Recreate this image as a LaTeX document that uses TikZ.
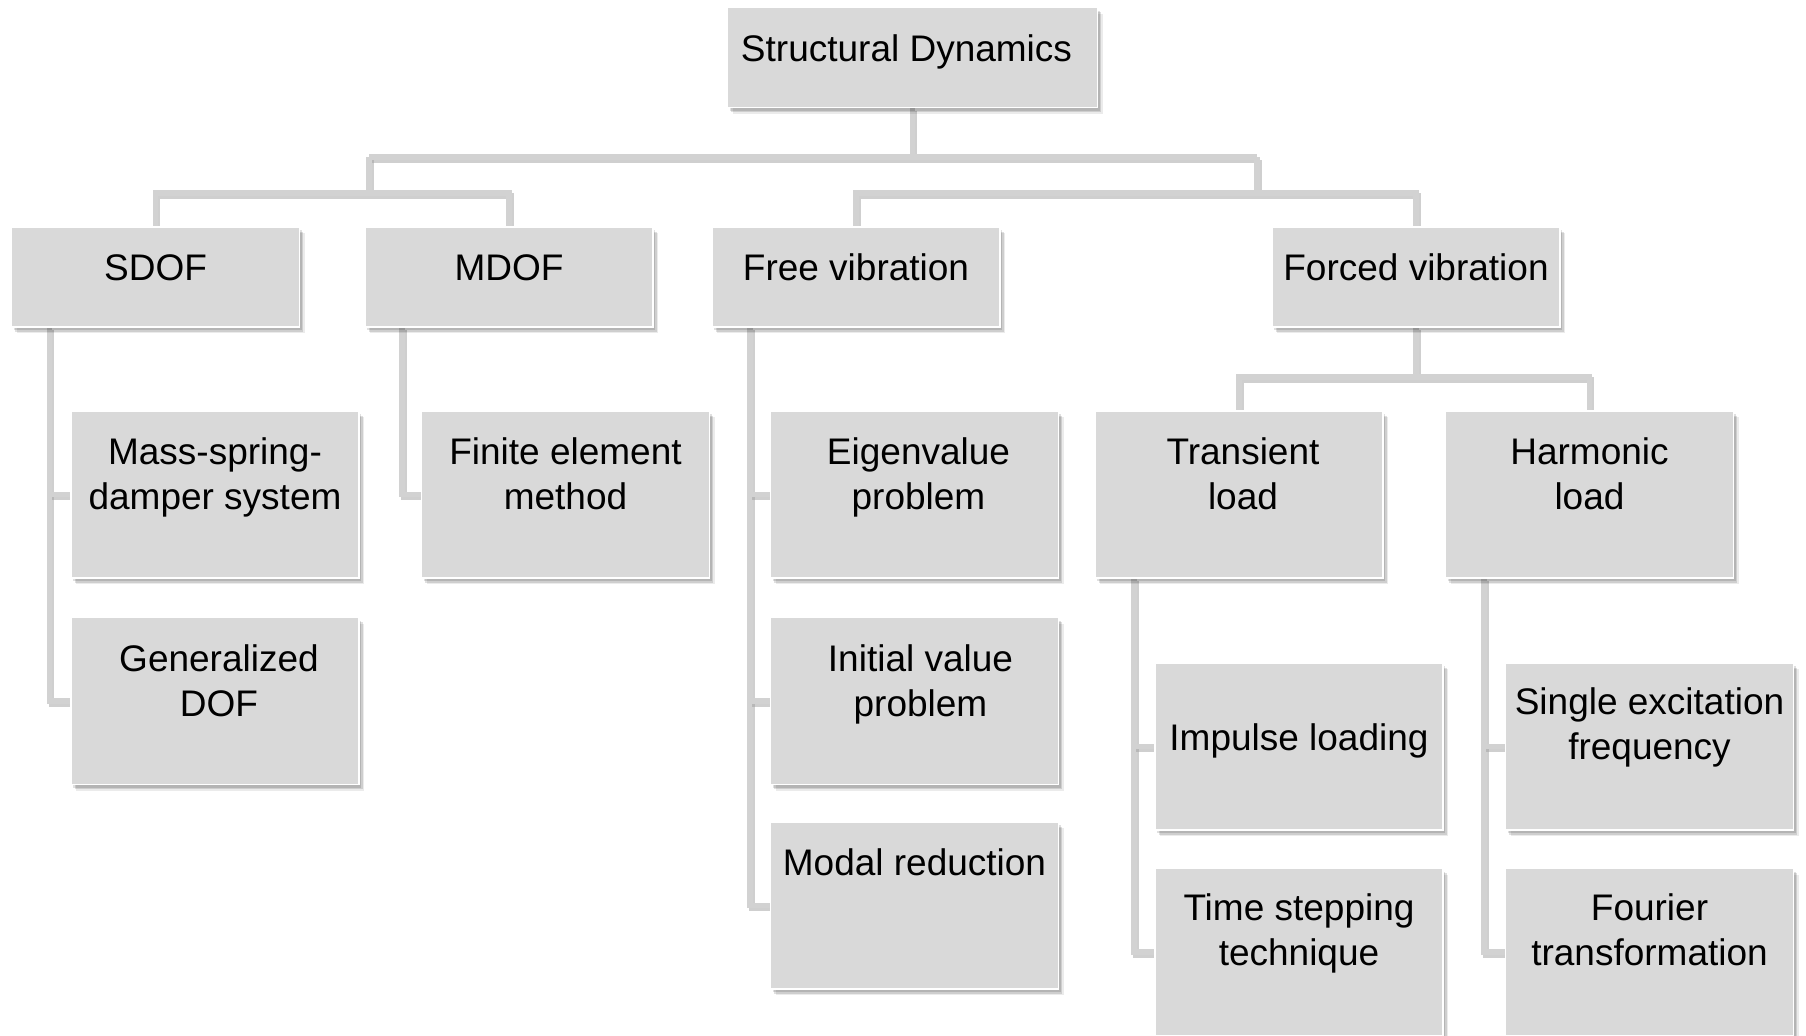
\documentclass[tikz,border=0pt]{standalone}
\usepackage{fontspec}
\setmainfont{Liberation Sans}
\usetikzlibrary{shadows,calc}
\definecolor{boxfill}{HTML}{D9D9D9}
\definecolor{connc}{HTML}{D2D2D2}
\definecolor{connsh}{HTML}{A0A0A0}
\pgfdeclarelayer{bglayer}
\pgfdeclarelayer{connlayer}
\pgfsetlayers{bglayer,connlayer,main}
\newcommand\mycon[1]{\draw[connshadow] #1; \draw[conn] #1;}
\begin{document}
\begin{tikzpicture}[x=0.5pt,y=-0.5pt,
  box/.style={rectangle, anchor=north west, inner sep=0pt, outer sep=0pt,
    fill=boxfill, draw=white, line width=0.9pt, minimum width=144pt,
    general shadow={shadow xshift=1.2pt, shadow yshift=-1.6pt, fill=black, opacity=0.12},
    general shadow={shadow xshift=1.9pt, shadow yshift=-2.4pt, fill=black, opacity=0.12},
    general shadow={shadow xshift=2.6pt, shadow yshift=-3.2pt, fill=black, opacity=0.08}},
  hbox/.style={box, minimum height=50pt},
  tbox/.style={box, minimum height=83.5pt},
  lbl/.style={anchor=north, align=center, inner sep=0pt,
    font=\fontsize{18.5pt}{22.5pt}\selectfont, text=black},
  conn/.style={draw=connc, line width=2.8pt},
  connshadow/.style={draw=connsh, line width=2.8pt, opacity=0.5,
    transform canvas={shift={(1pt,-1.5pt)}}},
]
\useasboundingbox (0,0) rectangle (1806,1035);
\begin{pgfonlayer}{bglayer}
\fill[white] (0,0) rectangle (1806,1035);
\end{pgfonlayer}

% level 0
\node[hbox, minimum width=185pt] (sd) at (727.5,7.5) {};
% level 1
\node[hbox] (sdof) at (11.5,227) {};
\node[hbox] (mdof) at (365,227) {};
\node[hbox] (free) at (712,227) {};
\node[hbox] (forced) at (1272,227) {};
% level 2
\node[tbox] (msd) at (71,411) {};
\node[tbox] (gdof) at (71,617.5) {};
\node[tbox] (fem) at (421.5,411) {};
\node[tbox] (eig) at (770.5,411) {};
\node[tbox] (ivp) at (770.5,617.5) {};
\node[tbox] (modal) at (770.5,822) {};
\node[tbox] (trans) at (1095,411) {};
\node[tbox] (harm) at (1445.5,411) {};
% level 3
\node[tbox] (imp) at (1155,663) {};
\node[tbox] (single) at (1505.5,663) {};
\node[tbox] (tst) at (1155,868.5) {};
\node[tbox] (four) at (1505.5,868.5) {};

% texts
\node[lbl] (t-sd) at ($(sd.north)+(-6,22)$) {\strut Structural Dynamics};
\node[lbl] (t-sdof) at ($(sdof.north)+(0,22)$) {\strut SDOF};
\node[lbl] (t-mdof) at ($(mdof.north)+(0,22)$) {\strut MDOF};
\node[lbl] (t-free) at ($(free.north)+(0,22)$) {\strut Free vibration};
\node[lbl] (t-forced) at ($(forced.north)+(0,22)$) {\strut Forced vibration};
\node[lbl] (t-msd) at ($(msd.north)+(0,22)$) {\strut Mass-spring-\\damper system};
\node[lbl] (t-gdof) at ($(gdof.north)+(4,22)$) {\strut Generalized\\DOF};
\node[lbl] (t-fem) at ($(fem.north)+(0,22)$) {\strut Finite element\\method};
\node[lbl] (t-eig) at ($(eig.north)+(4,22)$) {\strut Eigenvalue\\problem};
\node[lbl] (t-ivp) at ($(ivp.north)+(6,22)$) {\strut Initial value\\problem};
\node[lbl] (t-modal) at ($(modal.north)+(0,22)$) {\strut Modal reduction};
\node[lbl] (t-trans) at ($(trans.north)+(4,22)$) {\strut Transient\\load};
\node[lbl] (t-harm) at ($(harm.north)+(0,22)$) {\strut Harmonic\\load};
\node[lbl] (t-imp) at ($(imp.north)+(0,56)$) {\strut Impulse loading};
\node[lbl] (t-single) at ($(single.north)+(0,20)$) {\strut Single excitation\\frequency};
\node[lbl] (t-tst) at ($(tst.north)+(0,20)$) {\strut Time stepping\\technique};
\node[lbl] (t-four) at ($(four.north)+(0,20)$) {\strut Fourier\\transformation};

% connectors
\coordinate (jL) at (369,157);
\coordinate (jR) at (1257,157);
\coordinate (bL) at (369,193);
\coordinate (bR) at (1257,193);
\coordinate (bF) at (1416,377);
\coordinate (vS) at ($(sdof.south west)+(38,0)$);
\coordinate (vM) at ($(mdof.south west)+(37,0)$);
\coordinate (vF) at ($(free.south west)+(38,0)$);
\coordinate (vT) at ($(trans.south west)+(39,0)$);
\coordinate (vH) at ($(harm.south west)+(38.5,0)$);
\begin{pgfonlayer}{connlayer}
\mycon{(sd.south) -- (sd.south |- jL)}
\mycon{(jL) -- (jR)}
\mycon{(jL) -- (bL)}
\mycon{(jR) -- (bR)}
\mycon{(sdof.north) -- (sdof.north |- bL) -- (mdof.north |- bL) -- (mdof.north)}
\mycon{(free.north) -- (free.north |- bR) -- (forced.north |- bR) -- (forced.north)}
\mycon{(vS) |- (gdof.west)}
\mycon{(vS |- msd.west) -- (msd.west)}
\mycon{(vM) |- (fem.west)}
\mycon{(vF) |- (modal.west)}
\mycon{(vF |- eig.west) -- (eig.west)}
\mycon{(vF |- ivp.west) -- (ivp.west)}
\mycon{(forced.south) -- (forced.south |- bF)}
\mycon{(trans.north) -- (trans.north |- bF) -- (harm.north |- bF) -- (harm.north)}
\mycon{(vT) |- (tst.west)}
\mycon{(vT |- imp.west) -- (imp.west)}
\mycon{(vH) |- (four.west)}
\mycon{(vH |- single.west) -- (single.west)}
\end{pgfonlayer}
\end{tikzpicture}
\end{document}
